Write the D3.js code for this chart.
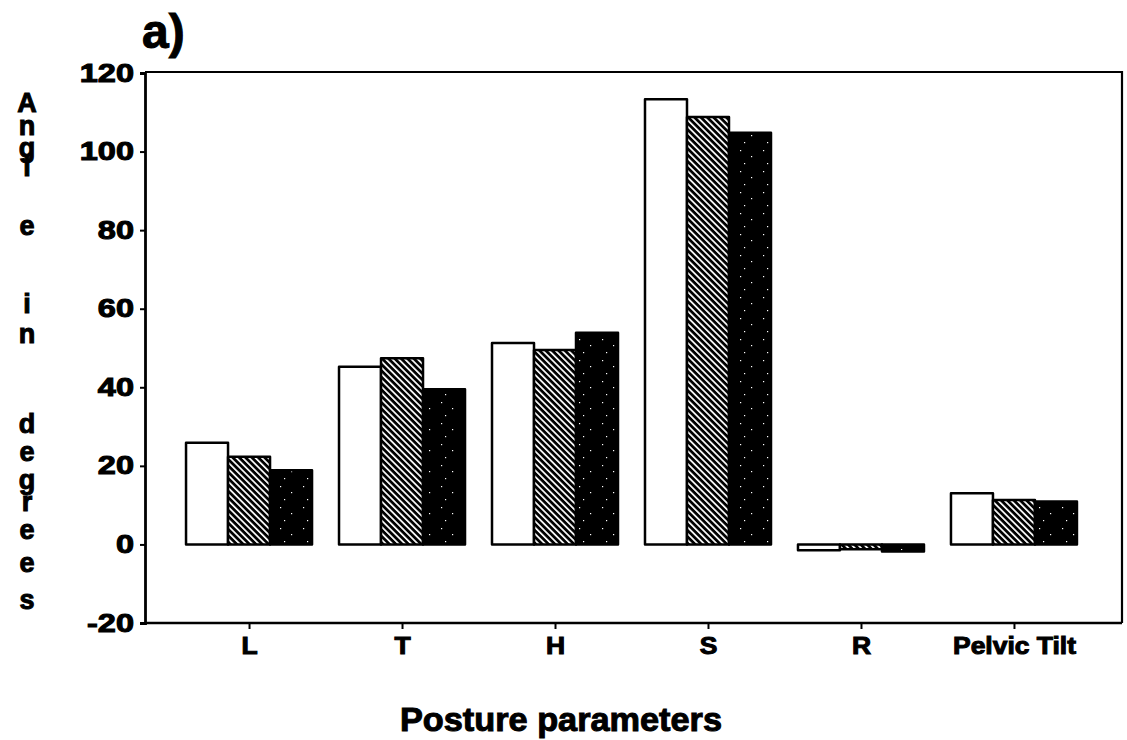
<!DOCTYPE html>
<html>
<head>
<meta charset="utf-8">
<script src="https://cdn.jsdelivr.net/npm/d3@7"></script>
<style>
  html, body { margin: 0; padding: 0; background: #fff; }
  svg { display: block; }
  text { font-family: "Liberation Sans", Arial, Helvetica, sans-serif; font-weight: bold; fill: #000; }
</style>
</head>
<body>
<svg id="chart" width="1127" height="740"></svg>
<script>
const categories = ["L", "T", "H", "S", "R", "Pelvic Tilt"];
const seriesWhite = [25.9, 45.2, 51.3, 113.3, -1.5, 13.0];
const seriesHatched = [22.3, 47.4, 49.5, 108.8, -1.2, 11.3];
const seriesDark = [18.9, 39.5, 53.9, 104.8, -1.8, 10.9];
const yTicks = [-20, 0, 20, 40, 60, 80, 100, 120];
const yLabelText = "Angle in degrees";
const xTitle = "Posture parameters";
const panelLabel = "a)";

(function () {
const svg = d3.select("#chart");
const pLeft = 145, pRight = 1122, pTop = 72, pBottom = 623;
const heavy = sel => sel.attr("stroke", "#000").attr("stroke-width", 1).attr("paint-order", "stroke")
  .style("font-family", '"Liberation Sans", Arial, sans-serif').style("font-weight", "bold");

const defs = svg.append("defs");
const hatch = defs.append("pattern").attr("id", "hatch")
  .attr("patternUnits", "userSpaceOnUse").attr("width", 4.5).attr("height", 4.5)
  .attr("patternTransform", "rotate(-45)");
hatch.append("rect").attr("width", 4.5).attr("height", 4.5).attr("fill", "#000");
hatch.append("rect").attr("x", 0).attr("y", 0).attr("width", 1.7).attr("height", 4.5).attr("fill", "#fff");

const dots = defs.append("pattern").attr("id", "dots")
  .attr("patternUnits", "userSpaceOnUse").attr("width", 23).attr("height", 21);
dots.append("rect").attr("width", 23).attr("height", 21).attr("fill", "#000");
[[4,3],[15,9],[8,16]].forEach(p => {
  dots.append("rect").attr("x", p[0]).attr("y", p[1]).attr("width", 1.2).attr("height", 1.2).attr("fill", "#fff");
});

const x = d3.scalePoint().domain(categories).range([pLeft, 1118]).padding(0.68);
const y = d3.scaleLinear().domain([-20, 120]).range([pBottom, 73]);
const inner = d3.scaleBand().domain([0, 1, 2]).range([-63, 63]);

const series = [
  { values: seriesWhite, fill: "#fff" },
  { values: seriesHatched, fill: "url(#hatch)" },
  { values: seriesDark, fill: "url(#dots)" }
];

series.forEach((s, si) => {
  svg.append("g").selectAll("rect").data(categories).join("rect")
    .attr("x", c => x(c) + inner(si))
    .attr("width", inner.bandwidth())
    .attr("y", (c, i) => y(Math.max(0, s.values[i])))
    .attr("height", (c, i) => Math.abs(y(s.values[i]) - y(0)))
    .attr("fill", s.fill)
    .attr("stroke", "#000")
    .attr("stroke-width", 2.5)
    .attr("stroke-linejoin", "round");
});

svg.append("path")
  .attr("d", `M${pLeft},${pTop}H${pRight}V${pBottom}`)
  .attr("fill", "none").attr("stroke", "#000").attr("stroke-width", 2.2);

const yAxis = svg.append("g").attr("transform", `translate(${pLeft},0)`)
  .call(d3.axisLeft(y).tickValues(yTicks).tickSize(5).tickPadding(7).tickFormat(d => String(d)));
yAxis.select(".domain").attr("stroke-width", 2.8);
yAxis.selectAll(".tick line").attr("stroke-width", 2);
yAxis.selectAll("text").style("font-size", "25px").call(heavy)
  .attr("transform", "scale(1.3,1)").attr("x", -8.5);

const xAxis = svg.append("g").attr("transform", `translate(0,${pBottom})`)
  .call(d3.axisBottom(x).tickSize(6).tickPadding(9));
xAxis.select(".domain").attr("d", `M${pLeft},0H${pRight}`).attr("stroke-width", 2.5);
xAxis.selectAll(".tick line").attr("stroke-width", 2);
xAxis.selectAll("text").style("font-size", "23px").call(heavy)
  .attr("transform", "scale(1.15,1)");

const letterY = [103, 126, 148, 167, 226, null, 304, 334, null, 424, 452, 480, 502, 530, 563, 600];
const letters = yLabelText.split("");
svg.append("g").selectAll("text").data(letters.map((ch, i) => ({ ch, yy: letterY[i] })).filter(d => d.ch !== " "))
  .join("text")
  .attr("x", 27).attr("y", d => d.yy)
  .attr("text-anchor", "middle").attr("dominant-baseline", "central")
  .style("font-size", "27px")
  .call(heavy)
  .text(d => d.ch);

svg.append("text").attr("x", 561).attr("y", 731)
  .attr("text-anchor", "middle").style("font-size", "33px").call(heavy)
  .attr("textLength", 322).attr("lengthAdjust", "spacingAndGlyphs").text(xTitle);

svg.append("text").attr("x", 142).attr("y", 48).style("font-size", "48px").call(heavy).text(panelLabel);
})();
</script>
</body>
</html>
